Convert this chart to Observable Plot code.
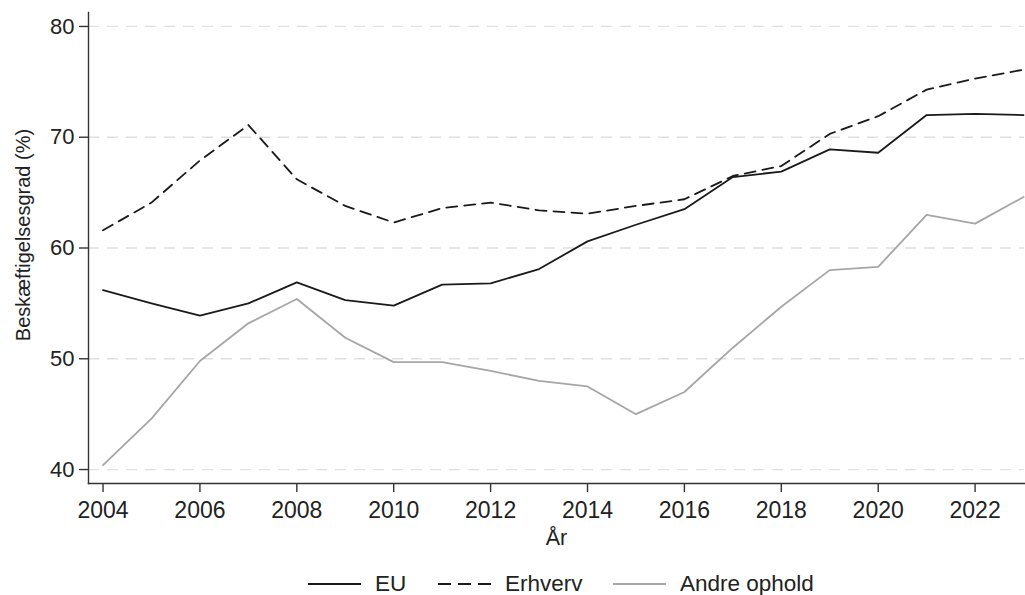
<!DOCTYPE html>
<html>
<head>
<meta charset="utf-8">
<script src="https://cdn.jsdelivr.net/npm/d3@7"></script>
<script src="https://cdn.jsdelivr.net/npm/@observablehq/plot@0.6"></script>
<style>
  html, body { margin: 0; padding: 0; background: #fff; }
  #chart { width: 1025px; }
  .legend { height: 35px; font-family: "Liberation Sans", Arial, sans-serif; font-size: 22.5px; color: #222; position: relative; }
  .legend .item { position: absolute; display: flex; align-items: center; top: 9px; height: 30px; }
  .legend svg { margin-right: 14px; }
</style>
</head>
<body>
<div id="chart"></div>
<script>
const years = [2004, 2005, 2006, 2007, 2008, 2009, 2010, 2011, 2012, 2013, 2014, 2015, 2016, 2017, 2018, 2019, 2020, 2021, 2022, 2023];
const euValues = [56.2, 55.0, 53.9, 55.0, 56.9, 55.3, 54.8, 56.7, 56.8, 58.1, 60.6, 62.1, 63.5, 66.4, 66.9, 68.9, 68.6, 72.0, 72.1, 72.0];
const erhvervValues = [61.6, 64.1, 67.9, 71.1, 66.2, 63.8, 62.3, 63.6, 64.1, 63.4, 63.1, 63.8, 64.4, 66.5, 67.4, 70.3, 71.9, 74.3, 75.3, 76.1];
const andreValues = [40.4, 44.6, 49.8, 53.2, 55.4, 51.9, 49.7, 49.7, 48.9, 48.0, 47.5, 45.0, 47.0, 51.0, 54.7, 58.0, 58.3, 63.0, 62.2, 64.6];
const seriesNames = ["EU", "Erhverv", "Andre ophold"];
const xTicks = [2004, 2006, 2008, 2010, 2012, 2014, 2016, 2018, 2020, 2022];
const yTicks = [40, 50, 60, 70, 80];
const yLabel = "Beskæftigelsesgrad (%)";
const xLabel = "År";

const toRows = (vals) => years.map((y, i) => ({year: y, value: vals[i]}));
const eu = toRows(euValues), erh = toRows(erhvervValues), andre = toRows(andreValues);

const plot = Plot.plot({
  width: 1025,
  height: 560,
  marginLeft: 88,
  marginRight: 1,
  marginTop: 12,
  marginBottom: 77,
  style: { fontFamily: "'Liberation Sans', Arial, sans-serif", fontSize: "22px", color: "#222", background: "#fff" },
  x: { domain: [2003.7, 2023.02] },
  y: { domain: [38.74, 81.26] },
  marks: [
    Plot.gridY(yTicks, { stroke: "#e0e0e0", strokeOpacity: 1, strokeDasharray: "11,8", strokeWidth: 1.3 }),
    Plot.frame({ anchor: "left", stroke: "#333", strokeWidth: 1.4 }),
    Plot.frame({ anchor: "bottom", stroke: "#333", strokeWidth: 1.4 }),
    Plot.axisY(yTicks, { tickSize: 9, tickPadding: 5, stroke: "#333", strokeWidth: 1.4, fontSize: 22, label: null }),
    Plot.axisX(xTicks, { tickSize: 9, tickPadding: 9, tickFormat: "d", stroke: "#333", strokeWidth: 1.4, fontSize: 23, label: null }),
    Plot.text([yLabel], { frameAnchor: "left", text: d => d, rotate: -90, textAnchor: "middle", dx: -65, dy: -13, fontSize: 20, fill: "#222" }),
    Plot.text([xLabel], { frameAnchor: "bottom", text: d => d, textAnchor: "middle", dy: 61, fontSize: 21.5, fill: "#222" }),
    Plot.line(andre, { x: "year", y: "value", stroke: "#a6a6a6", strokeWidth: 1.8 }),
    Plot.line(erh, { x: "year", y: "value", stroke: "#1a1a1a", strokeWidth: 1.8, strokeDasharray: "11,7" }),
    Plot.line(eu, { x: "year", y: "value", stroke: "#1a1a1a", strokeWidth: 1.8 })
  ]
});
document.getElementById("chart").appendChild(plot);

// Legend below the chart
const legendStyles = {
  "EU": { stroke: "#1a1a1a", dash: null, left: 308 },
  "Erhverv": { stroke: "#1a1a1a", dash: "13,7", left: 438 },
  "Andre ophold": { stroke: "#a6a6a6", dash: null, left: 613 }
};
const legend = document.createElement("div");
legend.className = "legend";
seriesNames.forEach(name => {
  const s = legendStyles[name];
  const item = document.createElement("div");
  item.className = "item";
  item.style.left = s.left + "px";
  item.innerHTML = `<svg width="53" height="6"><line x1="0" y1="3" x2="53" y2="3" stroke="${s.stroke}" stroke-width="1.8" ${s.dash ? `stroke-dasharray="${s.dash}"` : ""}/></svg><span>${name}</span>`;
  legend.appendChild(item);
});
document.getElementById("chart").appendChild(legend);
</script>
</body>
</html>
